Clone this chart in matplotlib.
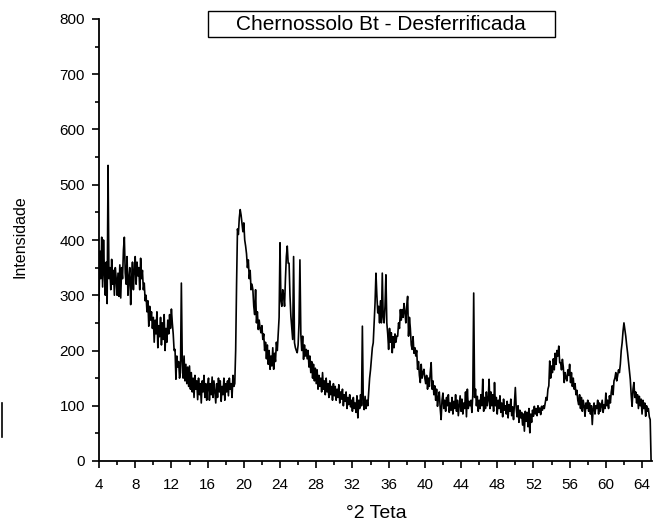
import numpy as np
import matplotlib
matplotlib.use("Agg")
import matplotlib.pyplot as plt
from matplotlib.patches import Rectangle
from matplotlib.lines import Line2D
from matplotlib.ticker import MultipleLocator

plt.rcParams["font.family"] = ["Liberation Sans", "DejaVu Sans"]

# diffractogram, 0.1 deg step from 4.0 to 65.0
two_theta_start = 4.0
two_theta_step = 0.1
intensity = [
    290, 380, 330, 405, 315, 400, 340, 300, 360, 285,   # 4
    535, 330, 350, 310, 365, 320, 345, 300, 350, 330,   # 5
    300, 340, 298, 355, 295, 350, 330, 382, 405, 340,   # 6
    320, 370, 300, 330, 350, 283, 330, 360, 310, 345,   # 7
    370, 320, 360, 335, 350, 310, 367, 330, 345, 310,   # 8
    322, 290, 300, 270, 290, 244, 280, 255, 270, 240,   # 9
    260, 215, 255, 230, 270, 205, 245, 225, 260, 210,   # 10
    250, 220, 265, 200, 240, 215, 255, 230, 265, 240,   # 11
    275, 250, 230, 200, 202, 148, 190, 170, 180, 150,   # 12
    160, 322, 180, 150, 190, 145, 175, 140, 170, 135,   # 13
    172, 130, 160, 125, 150, 115, 155, 130, 145, 111,   # 14
    150, 120, 140, 105, 145, 125, 155, 115, 140, 110,   # 15
    135, 150, 110, 140, 120, 152, 115, 145, 125, 105,   # 16
    140, 115, 150, 125, 145, 108, 135, 120, 150, 110,   # 17
    140, 125, 145, 118, 150, 130, 140, 115, 155, 135,   # 18
    140, 200, 320, 420, 410, 440, 455, 445, 430, 415,   # 19
    431, 400, 389, 375, 350, 364, 330, 345, 310, 320,   # 20
    310, 280, 265, 310, 250, 270, 238, 255, 240, 232,   # 21
    245, 220, 230, 200, 215, 185, 210, 175, 200, 166,   # 22
    190, 172, 205, 166, 195, 180, 215, 200, 229, 260,   # 23
    395, 290, 280, 310, 300, 280, 330, 370, 389, 358,   # 24
    358, 300, 262, 240, 220, 370, 214, 205, 200, 196,   # 25
    210, 250, 364, 230, 200, 226, 184, 210, 190, 202,   # 26
    185, 200, 170, 190, 160, 180, 150, 175, 145, 168,   # 27
    140, 165, 130, 155, 135, 150, 125, 160, 130, 145,   # 28
    120, 150, 125, 140, 115, 145, 120, 135, 110, 140,   # 29
    118, 135, 110, 130, 115, 138, 105, 125, 112, 130,   # 30
    100, 120, 108, 125, 95, 115, 102, 120, 98, 110,     # 31
    90, 115, 95, 105, 88, 118, 78, 110, 95, 120,        # 32
    100, 244, 105, 93, 117, 95, 110, 100, 125, 150,     # 33
    165, 185, 205, 214, 250, 286, 340, 300, 268, 280,   # 34
    250, 290, 250, 340, 260, 250, 280, 337, 250, 230,   # 35
    202, 240, 215, 232, 196, 225, 205, 230, 215, 226,   # 36
    226, 250, 240, 274, 255, 274, 260, 285, 270, 250,   # 37
    280, 298, 226, 260, 240, 210, 202, 225, 195, 205,   # 38
    190, 200, 166, 180, 155, 142, 175, 150, 160, 166,   # 39
    150, 140, 155, 130, 150, 135, 160, 178, 130, 145,   # 40
    120, 136, 110, 130, 99, 115, 125, 95, 75, 110,      # 41
    123, 95, 110, 90, 115, 100, 120, 88, 105, 92,       # 42
    115, 85, 108, 95, 120, 90, 110, 82, 100, 118,       # 43
    90, 112, 85, 105, 95, 125, 80, 130, 95, 108,        # 44
    100, 110, 88, 120, 304, 115, 130, 100, 117, 90,     # 45
    110, 95, 120, 100, 148, 90, 115, 95, 125, 100,      # 46
    110, 148, 95, 125, 100, 120, 90, 142, 100, 115,     # 47
    85, 110, 95, 118, 88, 105, 80, 112, 92, 100,        # 48
    85, 108, 78, 102, 90, 112, 82, 98, 75, 105,         # 49
    133, 95, 80, 100, 70, 92, 78, 88, 65, 85,           # 50
    54, 90, 72, 88, 62, 95, 51, 85, 70, 92,             # 51
    81, 99, 85, 95, 82, 100, 88, 96, 84, 99,            # 52
    92, 100, 95, 105, 115, 110, 130, 136, 181, 150,     # 53
    172, 160, 185, 165, 195, 175, 200, 190, 208, 178,   # 54
    178, 165, 184, 170, 142, 160, 150, 145, 165, 155,   # 55
    175, 142, 160, 135, 150, 130, 140, 120, 128, 110,   # 56
    102, 120, 95, 115, 90, 110, 100, 81, 105, 95,       # 57
    110, 90, 105, 85, 100, 66, 95, 105, 85, 100,        # 58
    95, 110, 85, 105, 90, 100, 110, 88, 102, 95,        # 59
    123, 100, 110, 95, 118, 105, 125, 136, 120, 145,    # 60
    150, 160, 145, 154, 165, 160, 175, 200, 214, 235,   # 61
    250, 238, 226, 210, 196, 180, 165, 148, 120, 99,    # 62
    130, 142, 115, 125, 105, 120, 95, 117, 100, 112,    # 63
    85, 110, 95, 105, 81, 100, 90, 95, 80, 75,          # 64
    0,                                                  # 65
]
two_theta = two_theta_start + two_theta_step * np.arange(len(intensity))

x_ticks = [4, 8, 12, 16, 20, 24, 28, 32, 36, 40, 44, 48, 52, 56, 60, 64]
y_ticks = [0, 100, 200, 300, 400, 500, 600, 700, 800]

fig = plt.figure(figsize=(6.53, 5.28), dpi=100)
ax = fig.add_axes([99 / 653, 67 / 528, 553 / 653, 442 / 528])

ax.plot(two_theta, intensity, color="black", lw=1.2)

ax.set_xlim(4, 65.1)
ax.set_ylim(0, 800)
ax.set_xticks(x_ticks)
ax.set_yticks(y_ticks)
ax.xaxis.set_minor_locator(MultipleLocator(2))
ax.yaxis.set_minor_locator(MultipleLocator(50))
ax.tick_params(which="major", direction="out", length=5, width=1.2, labelsize=11)
ax.tick_params(which="minor", direction="out", length=3, width=1.2)
ax.tick_params(axis="x", which="major", pad=7)
ax.tick_params(axis="y", which="major", pad=5)
for side in ("top", "right"):
    ax.spines[side].set_visible(False)
for side in ("left", "bottom"):
    ax.spines[side].set_linewidth(1.3)

fig.text(20 / 653, 1 - 237 / 528, "Intensidade", rotation=90, ha="center", va="center", fontsize=11.5)
fig.text(376 / 653, 1 - 514 / 528, "°2 Teta", ha="center", va="center", fontsize=14)

fig.patches.append(Rectangle((208 / 653, 1 - 37 / 528), 347 / 653, 26 / 528,
                             transform=fig.transFigure, fill=False, ec="black", lw=1.0))
fig.text(381 / 653, 1 - 24 / 528, "Chernossolo Bt - Desferrificada", ha="center", va="center", fontsize=15)

# stray mark at the left edge of the original
fig.lines.append(Line2D([1.5 / 653, 1.5 / 653], [1 - 437 / 528, 1 - 403 / 528],
                        transform=fig.transFigure, color="black", lw=1.2))

fig.savefig("out.png", dpi=100)
